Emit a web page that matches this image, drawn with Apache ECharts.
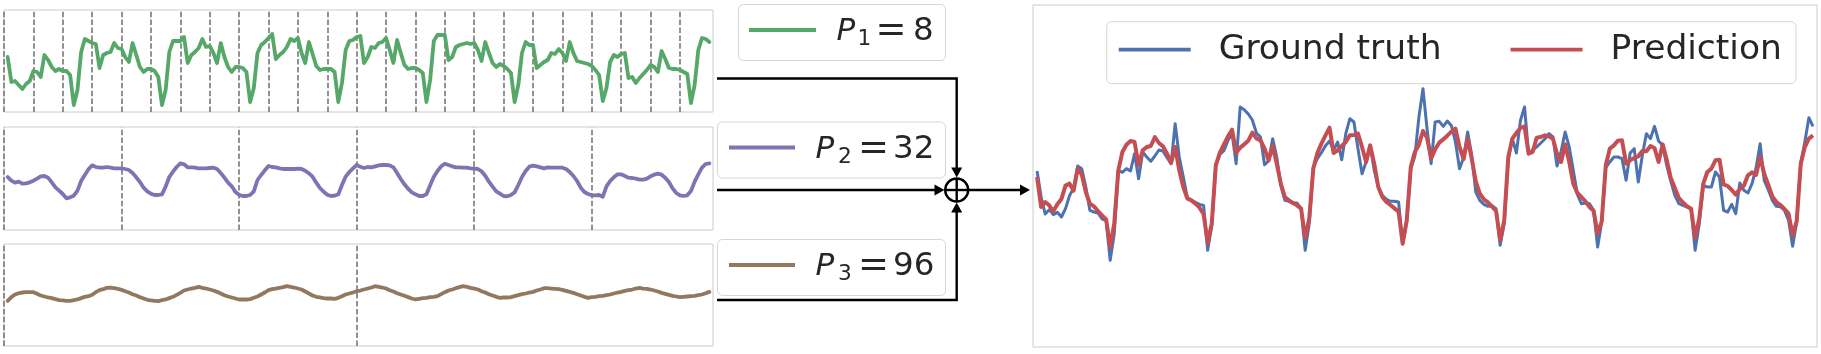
<!DOCTYPE html>
<html><head><meta charset="utf-8">
<script src="https://cdn.jsdelivr.net/npm/echarts@6/dist/echarts.min.js"></script>
<style>html,body{margin:0;padding:0;background:#fff}#c{width:1821px;height:354px}</style>
</head><body><div id="c"></div>
<script>
// ---- data (arbitrary units) ----
const periods = [8, 32, 96];
const periodLabels = ['1', '2', '3'];
const periodValues = ['8', '32', '96'];
const seriesNames = ['Ground truth', 'Prediction'];

const p1Values = [55,30,31,27,23,28,31,41,40,35,57,52,45,41,43,41,41,37,7,22,60,73,71,69,68,44,57,59,60,69,64,63,55,50,69,57,45,40,43,43,41,35,7,22,60,71,71,71,75,49,57,60,64,73,65,66,59,49,69,55,45,40,45,45,44,40,10,24,59,67,70,74,78,53,57,60,65,73,71,74,59,49,70,58,46,42,43,43,43,40,10,29,62,71,72,75,
76,49,55,65,64,69,70,74,62,49,72,59,47,43,44,44,42,39,10,32,71,77,77,77,52,55,65,67,68,69,68,69,62,51,70,59,49,45,48,46,43,39,10,27,59,70,67,67,44,47,50,52,59,58,63,59,51,70,59,51,50,49,48,46,42,37,11,24,50,57,55,58,59,34,35,29,34,38,42,47,45,40,61,53,44,43,43,42,40,38,9,27,62,74,73,70];

const p2Values = [159,148,142,145,139,140,143,148,154,161,162,157,143,128,118,108,95,98,103,118,147,165,182,194,189,187,187,189,187,185,185,185,183,180,171,158,144,127,116,109,105,105,107,130,159,175,189,200,197,188,188,187,185,185,185,186,187,183,171,157,142,131,114,106,102,102,105,116,150,165,179,192,189,188,185,183,183,183,183,184,183,178,170,160,142,126,115,106,102,103,107,135,160,174,185,195,
190,186,189,188,191,194,195,195,194,188,171,153,137,124,113,107,102,102,107,134,160,177,191,199,195,191,188,188,187,187,185,184,183,176,163,145,130,116,109,102,101,105,113,135,159,177,190,193,191,188,185,188,187,187,187,187,183,174,162,147,127,114,108,104,104,105,100,131,147,158,167,167,162,157,156,154,151,151,154,161,166,169,166,157,144,125,111,104,102,104,117,145,167,187,198,200];

const p3Values = [136,147,155,159,161,162,162,162,157,152,149,146,144,141,138,137,136,136,138,140,144,148,150,154,162,168,171,175,176,174,172,169,165,161,156,152,147,143,139,137,136,135,138,140,144,148,154,160,167,170,173,175,178,175,173,170,167,163,158,153,149,146,143,140,140,140,141,145,149,155,161,168,171,173,175,177,180,178,176,173,170,164,158,152,148,146,144,143,143,142,145,150,155,158,161,165,167,170,173,176,
180,178,176,173,168,164,159,155,151,147,143,140,142,144,145,147,148,150,156,162,167,170,174,177,180,178,175,173,170,165,161,156,152,148,145,146,146,147,150,153,156,158,161,163,167,170,174,174,173,172,171,169,166,163,160,156,152,148,145,147,148,150,151,153,155,158,161,163,166,168,170,173,175,173,172,170,167,164,160,157,154,151,149,147,148,149,150,151,153,155,159,163];

const groundTruth = [528,450,399,412,397,404,390,415,454,477,543,535,480,410,405,402,384,380,260,340,530,524,535,528,580,505,585,570,557,573,591,588,568,550,670,570,510,448,440,434,428,425,290,363,545,578,589,620,640,550,720,712,699,681,642,630,547,558,625,570,485,440,437,432,432,415,290,370,540,565,583,604,618,590,615,562,640,685,675,595,520,555,605,530,480,455,443,437,437,435,310,375,535,572,690,775,
655,550,675,677,662,678,664,615,535,568,645,575,465,440,428,422,424,415,305,370,565,625,582,680,720,580,592,600,612,624,640,630,543,587,645,600,530,458,430,432,430,410,300,375,538,555,570,570,565,500,582,595,495,575,640,625,662,618,605,545,498,455,430,425,420,415,290,368,485,480,480,525,510,410,405,428,400,492,470,462,490,537,610,500,472,440,422,421,410,380,302,375,550,615,688,662];

const prediction = [510,420,435,425,407,428,444,484,490,469,535,517,465,430,422,408,395,383,300,370,530,585,607,618,615,545,590,600,603,630,612,602,580,552,600,530,480,445,440,430,418,398,312,370,545,583,608,632,652,583,598,608,619,643,626,620,595,560,603,550,490,450,440,432,425,415,328,385,535,582,610,635,658,582,590,603,615,635,636,640,600,555,605,550,480,450,435,426,416,406,310,380,540,585,607,648,
628,566,593,613,623,634,646,655,600,564,625,565,497,460,443,434,421,408,320,380,570,625,642,657,662,580,585,628,630,635,632,625,580,555,608,555,490,462,450,437,420,409,340,377,545,595,605,619,620,550,560,567,572,588,587,603,597,555,608,562,507,477,447,434,422,415,328,385,490,525,535,560,562,488,483,471,457,474,484,515,524,516,570,520,487,452,435,426,414,400,335,378,550,600,625,635];

// ---- styles ----
const FONT = 'DejaVu Sans';
const TXT = '#262626';
const FS = 34.5;      // right legend text
const FP = 31;        // italic P in period legends
const FD = 32.5;      // period values
const FEQ = 37;       // '=' sign in period legends
const C = {green:'#55a868', purple:'#8172b3', brown:'#937860', blue:'#4c72b0', red:'#c44e52'};

const toXY = arr => arr.map((v, i) => [i + 1, v]);
const ticksFor = p => { const a = []; for (let x = 0; x < 192; x += p) a.push({xAxis: x}); return a; };

const grids = [
  {left: 4, top: 10, width: 709, height: 102},
  {left: 4, top: 127, width: 709, height: 103},
  {left: 4, top: 244, width: 709, height: 102},
  {left: 1033, top: 5, width: 784, height: 342}
].map(g => Object.assign({show: true, borderColor: '#cccccc', borderWidth: 1, backgroundColor: 'transparent'}, g));

const yMax = [102, 309, 307, 1026];
const hidden = {axisLine:{show:false}, axisTick:{show:false}, axisLabel:{show:false}, splitLine:{show:false}};
const xAxes = grids.map((g, k) => Object.assign({type:'value', gridIndex:k, min:0, max:193}, hidden));
const yAxes = grids.map((g, k) => Object.assign({type:'value', gridIndex:k, min:0, max:yMax[k]}, hidden));

const panelData = [p1Values, p2Values, p3Values];
const panelColors = [C.green, C.purple, C.brown];
const series = [];
panelData.forEach((vals, k) => {
  series.push({
    name: 'P' + (k + 1), type: 'line', xAxisIndex: k, yAxisIndex: k, data: toXY(vals),
    showSymbol: false, z: 3, color: panelColors[k],
    lineStyle: {color: panelColors[k], width: 3.8, join: 'round', cap: 'round'},
    markLine: {silent: true, symbol: ['none', 'none'], label: {show: false}, z: 1,
      lineStyle: {color: '#777777', width: 1.6, type: [5.5, 2.4]}, data: ticksFor(periods[k])}
  });
});
series.push({name: seriesNames[0], type:'line', xAxisIndex:3, yAxisIndex:3, data: toXY(groundTruth),
  showSymbol:false, color:C.blue, itemStyle:{color:C.blue}, lineStyle:{color:C.blue, width:3, join:'round'}, z:3});
series.push({name: seriesNames[1], type:'line', xAxisIndex:3, yAxisIndex:3, data: toXY(prediction),
  showSymbol:false, color:C.red, itemStyle:{color:C.red}, lineStyle:{color:C.red, width:4, join:'round'}, z:4});

// ---- period legends, arrows and the sum node (graphic) ----
const boxes = [
  {x:738.5, y:4.5, w:207, h:56, lx1:749, lx2:816, ly:30, px:836.5, cy:31.5, sx:857.5, ex:875.5, vx:913},
  {x:717.5, y:122, w:228, h:56, lx1:729, lx2:795, ly:147.5, px:815.5, cy:149.5, sx:838, ex:858, vx:893},
  {x:717.5, y:239.5, w:228, h:56, lx1:729, lx2:795, ly:265, px:815.5, cy:266.5, sx:838, ex:858, vx:893}
];
const graphics = [];
boxes.forEach((b, k) => {
  graphics.push({type:'rect', shape:{x:b.x, y:b.y, width:b.w, height:b.h, r:5},
    style:{fill:'rgba(255,255,255,0.8)', stroke:'#d6d6d6', lineWidth:1}, z:10});
  graphics.push({type:'line', shape:{x1:b.lx1, y1:b.ly, x2:b.lx2, y2:b.ly},
    style:{stroke:panelColors[k], lineWidth:3.8}, z:11});
  graphics.push({type:'text', x:b.px, y:b.cy, z:11, style:{text:'P', fontFamily:FONT, fontStyle:'italic',
    fontSize:FP, fill:TXT, verticalAlign:'middle', align:'left'}});
  graphics.push({type:'text', x:b.sx, y:b.cy + 8, z:11, style:{text:periodLabels[k], fontFamily:FONT,
    fontSize:FP * 0.7, fill:TXT, verticalAlign:'middle', align:'left'}});
  graphics.push({type:'text', x:b.ex, y:b.cy, z:11, style:{text:'=', fontFamily:FONT,
    fontSize:FEQ, fill:TXT, verticalAlign:'middle', align:'left'}});
  graphics.push({type:'text', x:b.vx, y:b.cy, z:11, style:{text:periodValues[k], fontFamily:FONT,
    fontSize:FD, fill:TXT, verticalAlign:'middle', align:'left'}});
});
const ax = 956.7, ay = 190, R = 11.5;
const stroke = {stroke:'#000', lineWidth:2.4, fill:null};
graphics.push({type:'polyline', shape:{points:[[717,78.5],[ax,78.5],[ax,169]]}, style:stroke});
graphics.push({type:'polygon', shape:{points:[[ax-5.5,167.5],[ax+5.5,167.5],[ax,177.5]]}, style:{fill:'#000'}});
graphics.push({type:'line', shape:{x1:717, y1:ay, x2:936, y2:ay}, style:stroke});
graphics.push({type:'polygon', shape:{points:[[934.5,ay-5.5],[934.5,ay+5.5],[944.5,ay]]}, style:{fill:'#000'}});
graphics.push({type:'polyline', shape:{points:[[717,300],[ax,300],[ax,211]]}, style:stroke});
graphics.push({type:'polygon', shape:{points:[[ax-5.5,212.5],[ax+5.5,212.5],[ax,202.5]]}, style:{fill:'#000'}});
graphics.push({type:'circle', shape:{cx:ax, cy:ay, r:R}, style:{stroke:'#000', lineWidth:2.4, fill:'none'}});
graphics.push({type:'line', shape:{x1:ax-R, y1:ay, x2:ax+R, y2:ay}, style:stroke});
graphics.push({type:'line', shape:{x1:ax, y1:ay-R, x2:ax, y2:ay+R}, style:stroke});
graphics.push({type:'line', shape:{x1:ax+R, y1:ay, x2:1021, y2:ay}, style:stroke});
graphics.push({type:'polygon', shape:{points:[[1020,ay-5.5],[1020,ay+5.5],[1030,ay]]}, style:{fill:'#000'}});

const chart = echarts.init(document.getElementById('c'), null, {renderer:'canvas'});
chart.setOption({
  animation: false,
  backgroundColor: '#fff',
  grid: grids, xAxis: xAxes, yAxis: yAxes, series: series,
  legend: {
    data: seriesNames, left: 1106.7, top: 21.7, orient: 'horizontal',
    icon: 'rect', itemWidth: 72, itemHeight: 3.8, itemGap: 69, selectedMode: false,
    padding: [8, 14, 14, 12],
    backgroundColor: 'rgba(255,255,255,0.8)', borderColor: '#d6d6d6', borderWidth: 1, borderRadius: 5,
    textStyle: {fontFamily: FONT, fontSize: FS, color: TXT, padding: [0, 0, 0, 23], lineHeight: 40}
  },
  graphic: graphics
});
</script></body></html>
